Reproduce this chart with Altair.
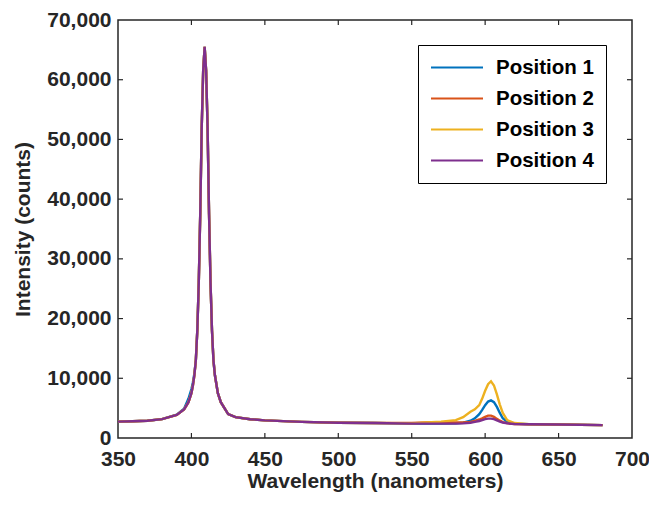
import altair as alt
import pandas as pd

# Wavelength grid (nm), denser around the two emission features
wavelength = [350, 360, 370, 380, 390, 395, 398, 400, 401, 402, 403, 404, 405,
              406, 407, 408, 409, 410, 411, 412, 413, 414, 415, 416, 418, 420,
              425, 430, 440, 450, 475, 500, 525, 550, 560, 570, 580, 585, 590,
              593, 596, 598, 600, 602, 604, 606, 608, 610, 612, 615, 620, 630,
              650, 680]

position_1 = [2750, 2800, 2900, 3150, 3900, 4900, 6600, 8200, 9300, 10800, 13000, 18000, 26000,
              37500, 52000, 61500, 65500, 61500, 52000, 37500, 26000, 18000, 13000, 10500, 7500, 6000,
              4000, 3500, 3150, 2950, 2700, 2550, 2500, 2400, 2420, 2430, 2450, 2550, 2900,
              3300, 4000, 4700, 5500, 6100, 6300, 6000, 5200, 4200, 3300, 2700, 2400, 2300,
              2250, 2150]

position_2 = [2750, 2800, 2900, 3150, 3850, 4800, 6000, 7500, 8800, 10500, 13000, 18000, 26000,
              37500, 52000, 61500, 65500, 61500, 52000, 37500, 26000, 18000, 13000, 10500, 7500, 6000,
              4000, 3500, 3150, 2950, 2700, 2550, 2500, 2500, 2600, 2650, 2600, 2600, 2700,
              2850, 3100, 3300, 3550, 3750, 3750, 3550, 3200, 2900, 2650, 2500, 2350, 2300,
              2250, 2150]

position_3 = [2750, 2800, 2900, 3150, 3850, 4800, 6000, 7500, 8800, 10500, 13000, 18000, 26000,
              37500, 52000, 61500, 65500, 61500, 52000, 37500, 26000, 18000, 13000, 10500, 7500, 6000,
              4000, 3500, 3150, 2950, 2700, 2550, 2500, 2450, 2600, 2750, 3000, 3500, 4400,
              4800, 5500, 6600, 7900, 9000, 9500, 8800, 7300, 5600, 4200, 3000, 2500, 2300,
              2250, 2150]

position_4 = [2750, 2800, 2900, 3150, 3850, 4800, 6000, 7500, 8800, 10500, 13000, 18000, 26000,
              37500, 52000, 61500, 65500, 61500, 52000, 37500, 26000, 18000, 13000, 10500, 7500, 6000,
              4000, 3500, 3150, 2950, 2700, 2550, 2500, 2400, 2400, 2400, 2400, 2450, 2550,
              2700, 2850, 3000, 3150, 3250, 3250, 3150, 2950, 2750, 2600, 2450, 2350, 2300,
              2250, 2150]

series_names = ["Position 1", "Position 2", "Position 3", "Position 4"]
series_colors = ["#0072BD", "#D95319", "#EDB120", "#7E2F8E"]

x_ticks = [350, 400, 450, 500, 550, 600, 650, 700]
y_ticks = [0, 10000, 20000, 30000, 40000, 50000, 60000, 70000]

rows = []
for name, values in zip(series_names, [position_1, position_2, position_3, position_4]):
    for w, v in zip(wavelength, values):
        rows.append({"Wavelength": w, "Intensity": v, "Series": name})
df = pd.DataFrame(rows)

W, H = 514, 418
FONT = "Liberation Sans"
INK = "#262626"
TICK_LEN = 5
FS = 21

x_scale = alt.Scale(domain=[350, 700], nice=False, zero=False)
y_scale = alt.Scale(domain=[0, 70000], nice=False)

x_axis = alt.Axis(values=x_ticks, format="d", title="Wavelength (nanometers)",
                  labelPadding=10, titlePadding=1, labelFlush=False)
y_axis = alt.Axis(values=y_ticks, format=",.0f", title="Intensity (counts)",
                  labelPadding=7, titlePadding=13, labelFlush=False)

x_enc = alt.X("Wavelength:Q", scale=x_scale, axis=x_axis)
y_enc = alt.Y("Intensity:Q", scale=y_scale, axis=y_axis)

lines = alt.Chart(df).mark_line(strokeWidth=2.4, clip=True).encode(
    x=x_enc,
    y=y_enc,
    color=alt.Color("Series:N",
                    scale=alt.Scale(domain=series_names, range=series_colors),
                    legend=alt.Legend(title=None, orient="none", legendX=300, legendY=25,
                                      strokeColor="black", fillColor="white", padding=12,
                                      symbolType="stroke", symbolSize=2704,
                                      symbolStrokeWidth=2, labelFontSize=20.5,
                                      labelFontWeight="bold", labelFont=FONT,
                                      labelColor="black", labelOffset=12,
                                      rowPadding=10, clipHeight=21)),
)

xt = pd.DataFrame({"Wavelength": x_ticks[1:-1]})
yt = pd.DataFrame({"Intensity": y_ticks[1:-1]})

# Inward-facing ticks on all four sides of the box
bottom_ticks = alt.Chart(xt).mark_rule(color=INK, strokeWidth=1.2).encode(
    x=x_enc, y=alt.value(H), y2=alt.value(H - TICK_LEN))
top_ticks = alt.Chart(xt).mark_rule(color=INK, strokeWidth=1.2).encode(
    x=x_enc, y=alt.value(0), y2=alt.value(TICK_LEN))
left_ticks = alt.Chart(yt).mark_rule(color=INK, strokeWidth=1.2).encode(
    y=y_enc, x=alt.value(0), x2=alt.value(TICK_LEN))
right_ticks = alt.Chart(yt).mark_rule(color=INK, strokeWidth=1.2).encode(
    y=y_enc, x=alt.value(W), x2=alt.value(W - TICK_LEN))

chart = alt.layer(lines, bottom_ticks, top_ticks, left_ticks, right_ticks).properties(
    width=W, height=H,
    autosize=alt.AutoSizeParams(type="none"),
    padding={"left": 118, "top": 20, "right": 17, "bottom": 68},
    background="white",
).configure_axis(
    labelFont=FONT, titleFont=FONT, labelFontSize=FS, titleFontSize=FS,
    labelFontWeight="bold", titleFontWeight="bold",
    labelColor=INK, titleColor=INK, tickSize=0, domain=False, grid=False,
).configure_view(
    stroke=INK, strokeWidth=1.5,
)

chart.save("out.html", embed_options={"renderer": "svg", "actions": False})
